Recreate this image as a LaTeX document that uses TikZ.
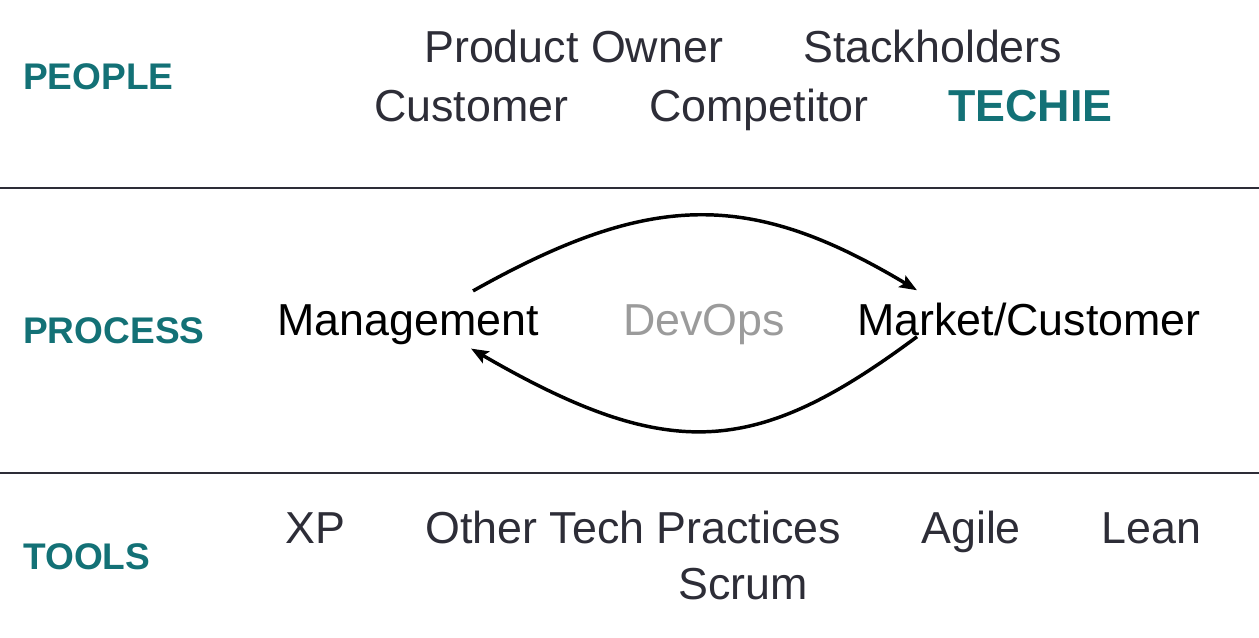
\documentclass[tikz,border=0pt]{standalone}
\usepackage{fontspec}
\setmainfont{Liberation Sans}
\usetikzlibrary{arrows.meta,calc}
\definecolor{labelteal}{HTML}{137176}
\definecolor{itemgray}{HTML}{2D2D37}
\definecolor{faintgray}{HTML}{9B9B9B}
\begin{document}
\begin{tikzpicture}[x=0.75pt, y=-0.75pt,
  rowlabel/.style={anchor=base west, inner sep=0, text=labelteal, font=\fontsize{27.8}{33}\selectfont\bfseries},
  item/.style={anchor=base west, inner sep=0, text=itemgray, font=\fontsize{33.6}{40}\selectfont},
  flow/.style={line width=2.6pt, -{Stealth[length=13pt, width=10pt, inset=2.5pt]}}]
\useasboundingbox (0, 0) rectangle (1259, 638);

% people
\node[rowlabel] (people) at (23, 90) {PEOPLE};
\node[item] (owner) at (424, 63) {Product Owner};
\node[item] (stake) at (803, 63) {Stackholders};
\node[item] (customer) at (374, 122) {Customer};
\node[item] (competitor) at (649, 122) {Competitor};
\node[item, text=labelteal, font=\fontsize{33.6}{40}\selectfont\bfseries] (techie) at (948, 122) {TECHIE};

\draw[itemgray, line width=1pt] (0, 188) -- (1259, 188);

% process
\node[rowlabel] (process) at (23, 343) {PROCESS};
\node[item, text=black] (mgmt) at (277, 335) {Management};
\node[item, text=faintgray] (devops) at (623, 335) {DevOps};
\node[item, text=black] (market) at (857, 335) {Market/Customer};

\draw[flow] ($(mgmt.north east)+(-66, -13)$) .. controls +(178, -100) and +(-167, -100) .. ($(market.north west)+(60, -12)$);
\draw[flow] ($(market.south west)+(60, 1)$) .. controls +(-160, 119) and +(200, 116) .. ($(mgmt.south east)+(-68, 4)$);

\draw[itemgray, line width=1pt] (0, 473) -- (1259, 473);

% tools
\node[rowlabel] (tools) at (23, 569) {TOOLS};
\node[item] (xp) at (285, 543) {XP};
\node[item] (practices) at (425, 543) {Other Tech Practices};
\node[item] (agile) at (921, 543) {Agile};
\node[item] (lean) at (1101, 543) {Lean};
\node[item] (scrum) at (678, 599) {Scrum};

\end{tikzpicture}
\end{document}
